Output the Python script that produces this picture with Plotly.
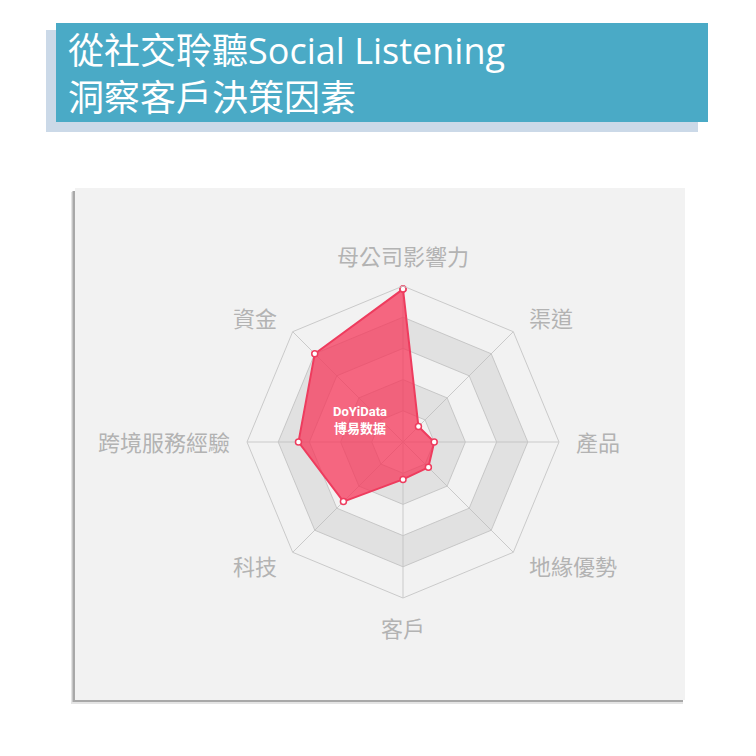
import math
import plotly.graph_objects as go

# ---- data ----
categories = ["母公司影響力", "渠道", "產品", "地緣優勢", "客戶", "科技", "跨境服務經驗", "資金"]
values = [98, 14, 20, 23, 24, 54, 67, 80]
radial_ticks = [20, 40, 60, 80, 100]
title_lines = ["從社交聆聽Social Listening", "洞察客戶決策因素"]
watermark = ["DoYiData", "博易数据"]

OFF = 8          # page body margin
W = H = 748
CJK = "Open Sans, Noto Sans CJK TC, sans-serif"

def px_x(x):
    return (x - OFF) / W

def px_y(y):
    return 1 - (y - OFF) / H

CX, CY, R = 403, 442, 156   # radar centre / radius in page pixels

fig = go.Figure()

# alternating grey bands (20-40, 60-80)
closed = categories + [categories[0]]
for inner, outer in [(radial_ticks[0], radial_ticks[1]), (radial_ticks[2], radial_ticks[3])]:
    theta = closed + [categories[0]] + categories[::-1]
    r = [outer] * len(closed) + [inner] * (len(categories) + 1)
    fig.add_trace(go.Scatterpolar(
        r=r, theta=theta, mode="lines", fill="toself",
        fillcolor="rgba(185,185,185,0.30)",
        line=dict(width=0, color="rgba(0,0,0,0)"),
        hoverinfo="skip", showlegend=False,
    ))

fig.add_trace(go.Scatterpolar(
    r=values + [values[0]],
    theta=closed,
    mode="lines+markers",
    fill="toself",
    fillcolor="rgba(245,55,90,0.75)",
    line=dict(color="#ee3c5e", width=2),
    marker=dict(size=6, color="white", line=dict(color="#ee3c5e", width=1.5)),
    showlegend=False,
))

shapes = [
    # title shadow + box
    dict(type="rect", xref="paper", yref="paper", x0=px_x(46), x1=px_x(698), y0=px_y(132), y1=px_y(30),
         fillcolor="#cbd9e8", line=dict(width=0), layer="below"),
    dict(type="rect", xref="paper", yref="paper", x0=px_x(56), x1=px_x(708), y0=px_y(122), y1=px_y(23),
         fillcolor="#4aaac6", line=dict(width=0), layer="below"),
    # panel shadow (blur approximation)
    dict(type="rect", xref="paper", yref="paper", x0=px_x(71), x1=px_x(683), y0=px_y(704), y1=px_y(192),
         fillcolor="#e4e4e4", line=dict(width=0), layer="below"),
    dict(type="rect", xref="paper", yref="paper", x0=px_x(72.5), x1=px_x(683), y0=px_y(702), y1=px_y(191),
         fillcolor="#a8a8a8", line=dict(width=0), layer="below"),
    # panel
    dict(type="rect", xref="paper", yref="paper", x0=px_x(75), x1=px_x(685), y0=px_y(700), y1=px_y(188),
         fillcolor="#f2f2f2", line=dict(width=0), layer="below"),
]

annotations = [
    dict(text=title_lines[0], xref="paper", yref="paper", x=px_x(66), y=px_y(50),
         xanchor="left", yanchor="middle", showarrow=False,
         font=dict(family=CJK, size=36, color="white")),
    dict(text=title_lines[1], xref="paper", yref="paper", x=px_x(66), y=px_y(97),
         xanchor="left", yanchor="middle", showarrow=False,
         font=dict(family=CJK, size=36, color="white")),
    dict(text="<b>" + watermark[0] + "</b><br><b>" + watermark[1] + "</b>",
         xref="paper", yref="paper", x=px_x(360), y=px_y(420),
         xanchor="center", yanchor="middle", showarrow=False,
         font=dict(family="Roboto, Noto Sans CJK SC, sans-serif", size=13, color="white")),
]

# axis name labels (echarts-style placement)
n = len(categories)
for i, name in enumerate(categories):
    ang = math.radians(90 - i * 360 / n)
    c, s = math.cos(ang), math.sin(ang)
    if abs(c) < 1e-6:
        lr, xa, ya = 169, "center", ("bottom" if s > 0 else "top")
    elif abs(s) < 1e-6:
        lr, xa, ya = 171, ("left" if c > 0 else "right"), "middle"
    else:
        lr, xa, ya = 175, ("left" if c > 0 else "right"), "middle"
    lx = CX + lr * c
    ly = CY - lr * s
    annotations.append(dict(
        text=name, xref="paper", yref="paper", x=px_x(lx), y=px_y(ly),
        xanchor=xa, yanchor=ya, showarrow=False,
        font=dict(family=CJK, size=22, color="#b3b3b3"),
    ))

fig.update_layout(
    width=W, height=H,
    margin=dict(l=0, r=0, t=0, b=0),
    paper_bgcolor="white",
    plot_bgcolor="white",
    showlegend=False,
    shapes=shapes,
    annotations=annotations,
    polar=dict(
        domain=dict(x=[px_x(CX - R), px_x(CX + R)], y=[px_y(CY + R), px_y(CY - R)]),
        bgcolor="rgba(0,0,0,0)",
        gridshape="linear",
        radialaxis=dict(
            range=[0, 100], tickvals=radial_ticks, showticklabels=False,
            showline=False, ticks="", gridcolor="#cacaca", gridwidth=1,
        ),
        angularaxis=dict(
            type="category", categoryarray=categories, categoryorder="array",
            rotation=90, direction="clockwise",
            showline=True, linecolor="#cacaca", linewidth=1,
            gridcolor="#cacaca", gridwidth=1,
            ticks="", showticklabels=False,
        ),
    ),
)

fig.write_html("out.html")
